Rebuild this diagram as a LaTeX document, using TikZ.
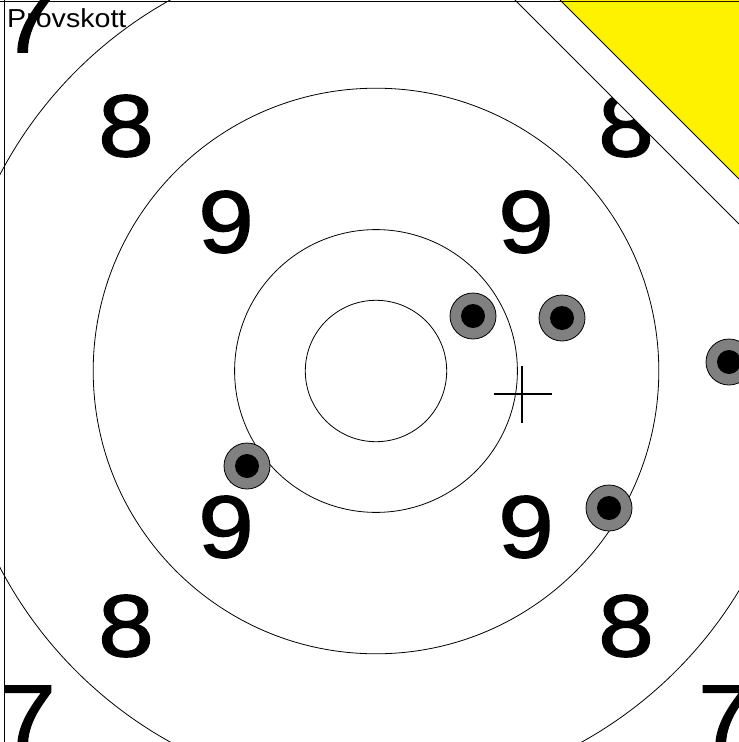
\documentclass[tikz,border=0pt]{standalone}
\usepackage{fontspec}
\setmainfont{Liberation Sans}
\newfontfamily\numfont[FakeBold=1.6]{Liberation Sans}

\begin{document}
\begin{tikzpicture}[x=1pt, y=-1pt,
    ring/.style={line width=0.8pt},
    ringnum/.style={inner sep=0pt, xscale=1.13, font=\numfont\fontsize{88}{88}\selectfont},
    hole/.style={fill=gray, draw=black, line width=0.8pt}]
    \useasboundingbox (0,0) rectangle (739,742);
    \clip (0,0) rectangle (739,742);
    \fill[white] (0,0) rectangle (739,742);
    \coordinate (centre) at (376,371);

    % Rings
    \foreach \r in {70.7,141.4,282.8,424.2} \draw[ring] (centre) circle (\r);

    % Ring numbers
    \foreach \n/\x/\y [count=\i] in {7/28/22, 7/28/716, 7/726/716,
        8/126/126, 8/626/126, 8/126/626, 8/626/626,
        9/226/222, 9/526/222, 9/226/527, 9/526/527}
        \node[ringnum] (num\i) at (\x,\y) {\n};

    % Cut corner
    \fill[white] (515,0) -- (739,0) -- (739,224) -- cycle;
    \draw[ring] (515,0) -- (739,224);
    \fill[yellow] (560,0) -- (739,0) -- (739,179) -- cycle;
    \draw[ring] (560,0) -- (739,179);

    % Shots
    \foreach \x/\y in {473/316, 562/318, 247/466, 609/508, 729/362} {
        \draw[hole] (\x,\y) circle (23);
        \fill (\x,\y) circle (12);
    }

    % Aim mark
    \draw[line width=2.5pt] (494,394) -- (552,394);
    \draw[line width=2.5pt] (522,366) -- (522,423);

    % Label
    \node[anchor=base west, inner sep=0pt, xscale=1.1,
        font=\fontsize{26}{26}\selectfont] (label) at (7,27) {Provskott};

    % Frame
    \draw[line width=1.5pt] (0,1.5) -- (739,1.5);
    \draw[line width=1pt] (4,0) -- (4,742);
\end{tikzpicture}
\end{document}
